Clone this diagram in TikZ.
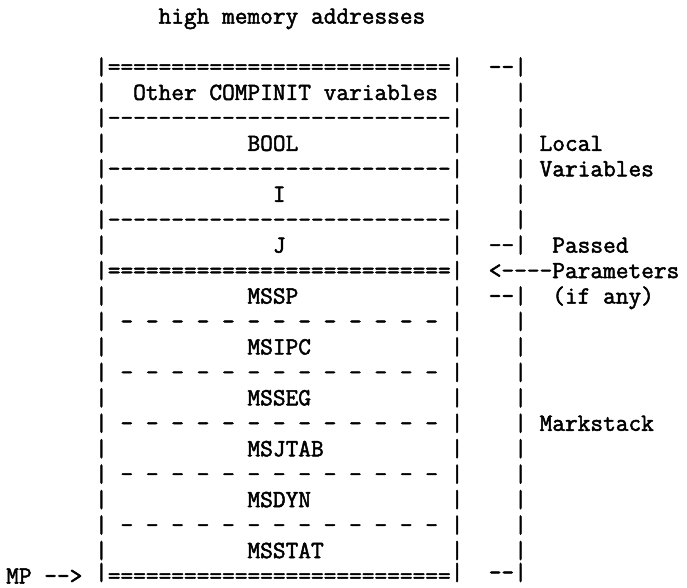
\documentclass[tikz,border=0pt]{standalone}
\usepackage{fontspec}
\newfontfamily\typewriter{lmmono12-regular.otf}[Ligatures=TeXOff,FakeBold=2]
\newcommand\nine[1]{#1#1#1#1#1#1#1#1#1}
\newlength\pitch

\begin{document}
\settowidth\pitch{\typewriter\fontsize{24}{29}\selectfont 0}
\pgfmathsetmacro\ttsize{24*12.7/\pitch}
\begin{tikzpicture}[
    x=12.7pt, y=-25.45pt,
    every node/.style={inner sep=0pt, anchor=base west, yshift=-6.5pt,
      font=\typewriter\fontsize{\ttsize}{29}\selectfont},
    lastbar/.style={yshift=3.5pt}]
  \useasboundingbox (-0.4724,-2.672) rectangle (53.622,20.393);
  \node (high) at (12,-2) {high memory addresses};
  % frame of the stack, one bar per line
  \foreach \r in {0,...,19} {
    \node (left\r) at (7,\r) {|};
    \node (right\r) at (35,\r) {|};
  }
  \node[lastbar] (left20) at (7,20) {|};
  \node[lastbar] (right20) at (35,20) {|};
  % bracket column
  \foreach \r in {1,2,3,4,5,6,10,11,12,13,14,15,16,17,18,19}
    \node (brace\r) at (40,\r) {|};
  \foreach \r in {0,7,9}
    \node (tick\r) at (38,\r) {--|};
  \node[lastbar] (tick20) at (38,20) {--|};
  % separators
  \foreach \r in {0,8,20}
    \node (eq\r) at (8,\r) {\nine{=}\nine{=}\nine{=}};
  \foreach \r in {2,4,6}
    \node (rule\r) at (8,\r) {\nine{-}\nine{-}\nine{-}};
  \foreach \r in {10,12,...,18}
    \foreach \c in {9,11,...,33}
      \node at (\c,\r) {-};
  % contents
  \node (other) at (10,1) {Other COMPINIT variables};
  \node (bool) at (19,3) {BOOL};
  \node (i) at (21,5) {I};
  \node (j) at (21,7) {J};
  \node (mssp) at (19,9) {MSSP};
  \node (msipc) at (19,11) {MSIPC};
  \node (msseg) at (19,13) {MSSEG};
  \node (msjtab) at (19,15) {MSJTAB};
  \node (msdyn) at (19,17) {MSDYN};
  \node (msstat) at (19,19) {MSSTAT};
  % side labels
  \node (local) at (42,3) {Local};
  \node (variables) at (42,4) {Variables};
  \node (passed) at (43,7) {Passed};
  \node (params) at (38,8) {<----Parameters};
  \node (ifany) at (43,9) {(if any)};
  \node (markstack) at (42,14) {Markstack};
  \node (mp) at (0,20) {MP -->};
\end{tikzpicture}
\end{document}
